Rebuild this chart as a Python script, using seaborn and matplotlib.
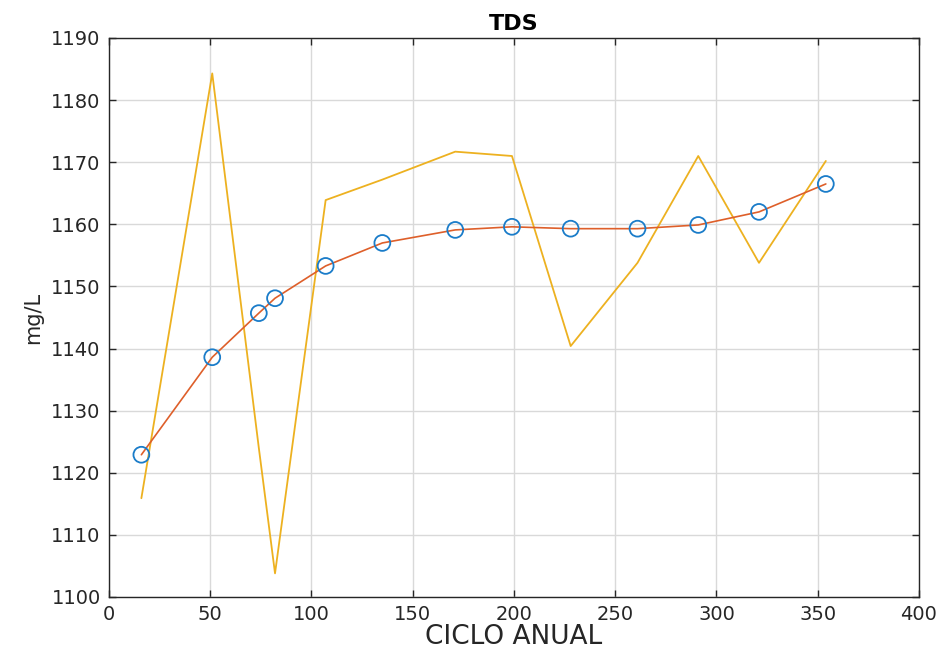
import matplotlib
matplotlib.use('Agg')
import matplotlib.pyplot as plt
import seaborn as sns
import pandas as pd

# dias del ciclo anual
dias = [16, 51, 74, 82, 107, 135, 171, 199, 228, 261, 291, 321, 354]
# TDS medido (linea amarilla)
tds_medido = [1115.9, 1184.3, 1124.0, 1103.8, 1163.9, 1167.2, 1171.7, 1171.0, 1140.4, 1153.8, 1171.0, 1153.8, 1170.2]
# TDS ajustado (circulos + linea naranja)
tds_ajuste = [1122.9, 1138.6, 1145.7, 1148.1, 1153.3, 1157.0, 1159.1, 1159.6, 1159.3, 1159.3, 1159.9, 1162.0, 1166.5]

df = pd.DataFrame({'dia': dias, 'medido': tds_medido, 'ajuste': tds_ajuste})

sns.set_theme(style='whitegrid')
plt.rcParams['font.family'] = ['DejaVu Sans']

fig = plt.figure(figsize=(9.41, 6.54), dpi=100)
ax = fig.add_axes([0.1158, 0.0872, 0.8608, 0.8547])

sns.lineplot(data=df, x='dia', y='medido', color='#EDB120', linewidth=1.3, ax=ax)
sns.lineplot(data=df, x='dia', y='ajuste', color='#DE5F2A', linewidth=1.2, ax=ax)
sns.scatterplot(data=df, x='dia', y='ajuste', marker='o', s=130, facecolors='none',
                edgecolor='#1A7CC9', linewidth=1.3, ax=ax, zorder=5)

ax.set_xlim(0, 400)
ax.set_ylim(1100, 1190)
ax.set_xticks(range(0, 401, 50))
ax.set_yticks(range(1100, 1191, 10))
ax.grid(True, color='#d9d9d9', linewidth=1.0)
ax.set_facecolor('white')
for s in ax.spines.values():
    s.set_color('#262626')
    s.set_linewidth(1.0)
ax.tick_params(direction='in', length=5, width=1, color='#262626', labelsize=14,
               labelcolor='#262626', top=True, right=True, bottom=True, left=True,
               pad=6)
ax.set_xlabel('CICLO ANUAL', fontsize=19, color='#262626', labelpad=0)
ax.set_ylabel('mg/L', fontsize=15, color='#262626', labelpad=6)
ax.set_title('TDS', fontsize=16, fontweight='bold', color='black', pad=6)

fig.savefig('out.png', dpi=100)
